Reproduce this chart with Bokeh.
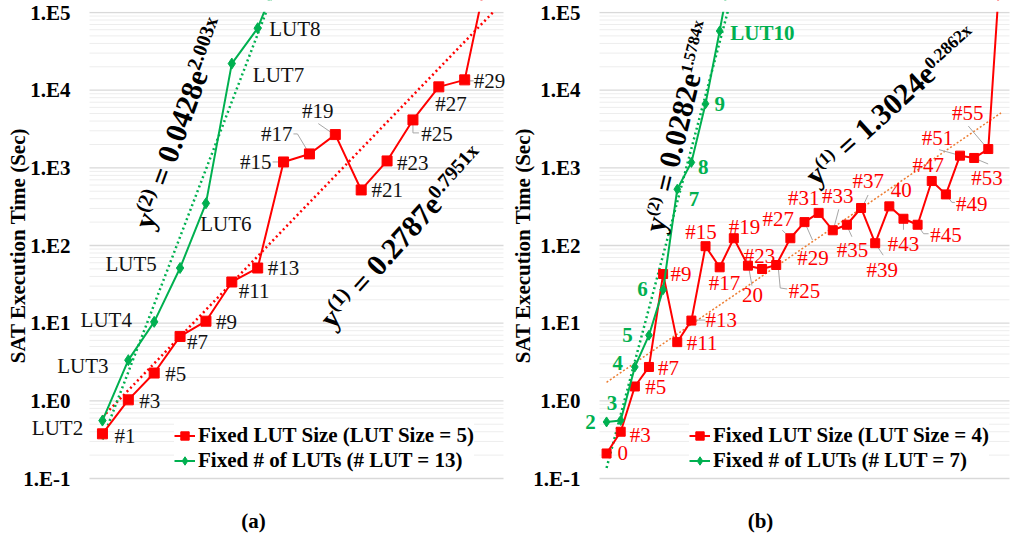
import math

import numpy as np
from bokeh.embed import file_html
from bokeh.layouts import row
from bokeh.models import (BoxAnnotation, ColumnDataSource, Label, LabelSet, Legend,
                          LegendItem, Range1d)
from bokeh.plotting import figure
from bokeh.resources import INLINE

SERIF = "Liberation Serif"
RED = "#FF0000"
GREEN = "#00B050"
ORANGE = "#ED7D31"
LEADER = "#A6A6A6"
INK = "#111111"

# ---------------- panel (a) data ----------------
a_size_x = list(range(1, 17))
a_size_labels = ["#1", "#3", "#5", "#7", "#9", "#11", "#13", "#15", "#17", "#19",
                 "#21", "#23", "#25", "#27", "#29", ""]
a_size_time = [0.376, 1.03, 2.28, 6.75, 10.6, 33.9, 51.3, 1190, 1510, 2680,
               519, 1227, 4140, 11030, 13570, 510000]

a_lut_x = list(range(1, 9))
a_lut_labels = ["LUT2", "LUT3", "LUT4", "LUT5", "LUT6", "LUT7", "LUT8", ""]
a_lut_time = [0.557, 3.34, 10.4, 51.3, 349, 22000, 62800, 430000]

a_fit_size = (0.2787, 0.7951)
a_fit_lut = (0.0428, 2.003)

# ---------------- panel (b) data ----------------
b_size_x = list(range(0, 29))
b_size_labels = ["0", "#3", "#5", "#7", "#9", "#11", "#13", "#15", "#17", "#19",
                 "20", "#23", "#25", "#27", "#29", "#31", "#33", "#35", "#37", "#39",
                 "40", "#43", "#45", "#47", "#49", "#51", "#53", "#55", ""]
b_size_time = [0.21, 0.40, 1.53, 2.73, 42.9, 5.7, 10.8, 98, 52.4, 124,
               55, 49.8, 56.1, 124, 200, 263, 157, 185, 304, 107,
               319, 221, 185, 676, 455, 1435, 1340, 1746, 1000000]

b_lut_x = list(range(0, 10))
b_lut_labels = ["2", "3", "4", "5", "6", "7", "8", "9", "LUT10", ""]
b_lut_time = [0.535, 0.56, 2.73, 7.0, 27, 530, 1175, 6680, 57800, 560000]

b_fit_size = (1.3024, 0.2862)
b_fit_lut = (0.0282, 1.5784)

y_ticks = [0.1, 1, 10, 100, 1000, 10000, 100000]
y_tick_labels = ["1.E-1", "1.E0", "1.E1", "1.E2", "1.E3", "1.E4", "1.E5"]
y_title = "SAT Execution Time (Sec)"

# ---------------- label placement (screen px: dx right, dy down) ----------------
a_size_off = [(12, 2, "left"), (11, 1, "left"), (11, 1, "left"), (7, 6, "left"),
              (10, 1, "left"), (7, 9, "left"), (10, 0, "left"), (-12, 0, "right"),
              (-17, -20, "right"), (-17.5, -23.7, "center"), (10.4, 0, "left"),
              (10, 2, "left"), (8.4, 14.4, "left"), (12.3, 17.4, "center"),
              (9, 1, "left"), (0, 0, "left")]
a_lut_off = [(-19.3, 7.3, "right"), (-19.7, 5.4, "right"), (-22.3, -2.3, "right"),
             (-23.3, -3.6, "right"), (-5.7, 21, "left"), (21, 11.7, "left"),
             (11.6, 1, "left"), (0, 0, "left")]
a_leaders = [(7, [(-11, 0), (-5, 0)]),
             (8, [(-16, -20), (-12, -20), (-3, -5)]),
             (9, [(-17, -11), (-4, -2)]),
             (12, [(0, 5), (0, 13), (6, 13)]),
             (14, [(5, 1), (9, 1)])]

b_size_off = [(11, 0, "left"), (9, 3, "left"), (10.5, 1, "left"), (9, 1, "left"),
              (7.5, 0, "left"), (9.4, 1, "left"), (14, -1, "left"),
              (-4.5, -14.6, "center"), (4.8, 15.7, "center"), (10.8, -11, "center"),
              (4.5, 29.3, "center"), (-2.6, -13.3, "center"), (12.6, 25.7, "left"),
              (-12, -19.3, "center"), (8.5, 36, "center"), (-15, -15, "center"),
              (5, -34, "center"), (5.7, 25.7, "center"), (7.3, -26.6, "center"),
              (7, 26.4, "center"), (12, -16, "center"), (0, 25, "center"),
              (12.7, 10.7, "left"), (-3.4, -15.8, "center"), (10, 10, "left"),
              (-22.6, -17.3, "center"), (12.9, 20.4, "center"), (-20.5, -35.7, "center"),
              (0, 0, "left")]
b_lut_off = [(-10.7, 0, "right"), (-8.7, -17, "center"), (-11.8, -4, "right"),
             (-16.3, 0, "right"), (-15.4, -1, "right"), (11.6, 9.3, "left"),
             (6.7, 4.3, "left"), (9, 0, "left"), (10.7, 2, "left"), (0, 0, "left")]
b_leaders = [(6, [(3, -0.5), (14, -0.5)]),
             (10, [(1, 3), (4, 20)]),
             (12, [(2, 2), (4, 23), (11, 24)]),
             (13, [(-8, -8), (-2, -2)]),
             (14, [(1, 2), (8, 18)]),
             (16, [(6, -21), (1, -2)]),
             (17, [(0, 1), (5, 12)]),
             (18, [(1, 0), (7, -13)]),
             (19, [(0, 0), (8, 12)]),
             (21, [(0, 2), (0, 11)]),
             (22, [(1, 2), (6, 9), (11, 9)]),
             (24, [(1, 1), (6, 8), (9, 8)]),
             (25, [(-21, -6), (-3, -1)]),
             (26, [(2, 1), (14, 6)]),
             (27, [(-20, -23), (-3, -3)])]

# Times-Bold advance widths (em) for laying out the fitted equations
ADV = {"y": .5, "(": .333, ")": .333, "=": .570, ".": .25, "e": .444, "x": .5}


def text_width(s, size):
    return sum(ADV.get(c, .5) for c in s) * size


def add_equation(p, x, y, angle_deg, parts, main=30, sup=20, rise=7):
    a = math.radians(angle_deg)
    d = 0.0
    for txt, is_sup, lead in parts:
        d += lead * main
        size = sup if is_sup else main
        r = rise if is_sup else 0
        ox = d * math.cos(a) - r * math.sin(a)
        oy = d * math.sin(a) + r * math.cos(a)
        p.add_layout(Label(x=x, y=y, x_offset=ox, y_offset=oy, text=txt, angle=a,
                           text_font=SERIF, text_font_style="bold",
                           text_font_size=f"{size}px", text_color="black",
                           text_align="left", text_baseline="alphabetic"))
        d += text_width(txt, size)


def add_labels(p, xs, ys, texts, offsets, color, bold=False):
    for align in ("left", "right", "center"):
        rows = [(x, y, t, dx, -dy) for x, y, t, (dx, dy, al) in zip(xs, ys, texts, offsets)
                if al == align and t]
        if not rows:
            continue
        src = ColumnDataSource(dict(x=[r[0] for r in rows], y=[r[1] for r in rows],
                                    t=[r[2] for r in rows], dx=[r[3] for r in rows],
                                    dy=[r[4] for r in rows]))
        p.add_layout(LabelSet(x="x", y="y", text="t", x_offset="dx", y_offset="dy",
                              source=src, text_font=SERIF, text_font_size="21px",
                              text_font_style="bold" if bold else "normal",
                              text_color=color, text_align=align, text_baseline="middle"))


def add_leaders(p, xs, ys, spec, ppx, ppd):
    lx, ly = [], []
    for i, pts in spec:
        lx.append([xs[i] + dx / ppx for dx, dy in pts])
        ly.append([ys[i] * 10 ** (-dy / ppd) for dx, dy in pts])
    p.multi_line(lx, ly, line_color=LEADER, line_width=1)


def make_panel(lo, hi, plot_w, left, right, top, plot_h, bottom):
    """Log-scale panel whose frame also holds the value axis and caption area."""
    ppx = plot_w / (hi - lo)
    ppd = plot_h / 6.0
    x0 = lo - left / ppx
    x1 = hi + right / ppx
    y0 = y_ticks[0] * 10 ** (-bottom / ppd)
    y1 = y_ticks[-1] * 10 ** (top / ppd)
    p = figure(frame_width=left + plot_w + right, frame_height=top + plot_h + bottom,
               y_axis_type="log", x_axis_location=None, y_axis_location=None,
               x_range=Range1d(x0, x1), y_range=Range1d(y0, y1),
               output_backend="svg", toolbar_location=None,
               min_border_left=0, min_border_right=0, min_border_top=0,
               min_border_bottom=0)
    p.outline_line_color = None
    p.background_fill_color = "white"
    p.border_fill_color = "white"
    p.grid.visible = False

    # horizontal gridlines over the plotting area
    minor = [m * t for t in y_ticks[:-1] for m in range(2, 10)]
    p.segment(x0=[lo] * len(minor), x1=[hi] * len(minor), y0=minor, y1=minor,
              line_color="#EDEDED", line_width=1)
    p.segment(x0=[lo] * len(y_ticks), x1=[hi] * len(y_ticks), y0=y_ticks, y1=y_ticks,
              line_color="#D9D9D9", line_width=1.3)

    # series stop at the top of the value scale
    p.add_layout(BoxAnnotation(left=lo, right=x1, bottom=y_ticks[-1] * 10 ** (0.8 / ppd),
                               fill_color="white", fill_alpha=1.0, line_color=None))

    # value axis: tick labels and title
    src = ColumnDataSource(dict(x=[lo] * len(y_ticks), y=y_ticks, t=y_tick_labels))
    p.add_layout(LabelSet(x="x", y="y", text="t", source=src, x_offset=-19,
                          text_font=SERIF, text_font_style="bold", text_font_size="21px",
                          text_color="black", text_align="right", text_baseline="middle"))
    p.add_layout(Label(x=lo, y=math.sqrt(y_ticks[0] * y_ticks[-1]), x_offset=-left + 17.5,
                       text=y_title, angle=math.pi / 2, text_font=SERIF,
                       text_font_style="bold", text_font_size="21px", text_color="black",
                       text_align="center", text_baseline="middle"))
    return p, ppx, ppd


def add_legend(p, items, loc):
    p.add_layout(Legend(items=items, location=loc, orientation="vertical",
                        background_fill_color="white", background_fill_alpha=1.0,
                        border_line_color=None, padding=4, spacing=0, margin=0,
                        glyph_width=21, glyph_height=25, label_height=25,
                        label_standoff=3, label_text_font=SERIF,
                        label_text_font_style="bold", label_text_font_size="21px",
                        label_text_color="black"))


def add_caption(p, text, x, ppd):
    y = y_ticks[0] * 10 ** (-42 / ppd)
    p.add_layout(Label(x=x, y=y, text=text, text_font=SERIF, text_font_style="bold",
                       text_font_size="21px", text_color="black", text_align="center",
                       text_baseline="middle"))


# ================= panel (a) =================
pa, a_ppx, a_ppd = make_panel(0.5, 16.5, 414, 89, 2, 12, 466, 55)

ta = np.linspace(1, 16.5, 60)
pa.line(ta, a_fit_size[0] * np.exp(a_fit_size[1] * ta), line_color=RED,
        line_width=2.5, line_dash="2 3")
tb = np.linspace(1, 8, 60)
pa.line(tb, a_fit_lut[0] * np.exp(a_fit_lut[1] * tb), line_color=GREEN,
        line_width=2.5, line_dash="2 3")

add_leaders(pa, a_size_x, a_size_time, a_leaders, a_ppx, a_ppd)

ra_line = pa.line(a_size_x, a_size_time, line_color=RED, line_width=2)
ra_pts = pa.scatter(a_size_x, a_size_time, marker="square", size=10, color=RED)
ga_line = pa.line(a_lut_x, a_lut_time, line_color=GREEN, line_width=2)
ga_pts = pa.scatter(a_lut_x, a_lut_time, marker="diamond", size=11, color=GREEN)

add_labels(pa, a_size_x, a_size_time, a_size_labels, a_size_off, INK)
add_labels(pa, a_lut_x, a_lut_time, a_lut_labels, a_lut_off, INK)

add_equation(pa, 2.548, 170.6, 70,
             [("y", 0, 0), ("(2)", 1, 0), ("=", 0, .25), ("0.0428e", 0, .25), ("2.003x", 1, 0)])
add_equation(pa, 9.6, 9.91, 48,
             [("y", 0, 0), ("(1)", 1, 0), ("=", 0, .25), ("0.2787e", 0, .25), ("0.7951x", 1, 0)])

add_legend(pa, [LegendItem(label="Fixed LUT Size (LUT Size = 5)", renderers=[ra_line, ra_pts]),
                LegendItem(label="Fixed # of LUTs (# LUT = 13)", renderers=[ga_line, ga_pts])],
           (174, 60))
add_caption(pa, "(a)", 0.5 + (253 - 89) / a_ppx, a_ppd)

# ================= panel (b) =================
pb, b_ppx, b_ppd = make_panel(-0.5, 28.5, 410, 94, 4, 12, 466, 55)

tc = np.linspace(0, 27.9, 60)
pb.line(tc, b_fit_size[0] * np.exp(b_fit_size[1] * (tc + 1)), line_color=ORANGE,
        line_width=1.5, line_dash="2 2")
td = np.linspace(0, 9, 60)
pb.line(td, b_fit_lut[0] * np.exp(b_fit_lut[1] * (td + 1)), line_color=GREEN,
        line_width=2.5, line_dash="2 3")

add_leaders(pb, b_size_x, b_size_time, b_leaders, b_ppx, b_ppd)

rb_line = pb.line(b_size_x, b_size_time, line_color=RED, line_width=2)
rb_pts = pb.scatter(b_size_x, b_size_time, marker="square", size=9, color=RED)
gb_line = pb.line(b_lut_x, b_lut_time, line_color=GREEN, line_width=2)
gb_pts = pb.scatter(b_lut_x, b_lut_time, marker="diamond", size=10, color=GREEN)

add_labels(pb, b_size_x, b_size_time, b_size_labels, b_size_off, RED)
add_labels(pb, b_lut_x, b_lut_time, b_lut_labels, b_lut_off, GREEN, bold=True)

add_equation(pb, 3.32, 151.4, 76.4,
             [("y", 0, 0), ("(2)", 1, 0), ("=", 0, .25), ("0.0282e", 0, .25), ("1.5784x", 1, 0)],
             sup=16.5, rise=6)
add_equation(pb, 14.35, 708, 42.1,
             [("y", 0, 0), ("(1)", 1, 0), ("=", 0, .25), ("1.3024e", 0, .25), ("0.2862x", 1, 0)],
             main=30, sup=17.5, rise=6)

add_legend(pb, [LegendItem(label="Fixed LUT Size (LUT Size = 4)", renderers=[rb_line, rb_pts]),
                LegendItem(label="Fixed # of LUTs (# LUT = 7)", renderers=[gb_line, gb_pts])],
           (184, 60))
add_caption(pb, "(b)", -0.5 + (255 - 94) / b_ppx, b_ppd)

layout = row(pa, pb)
open("out.html", "w").write(file_html(layout, INLINE))
